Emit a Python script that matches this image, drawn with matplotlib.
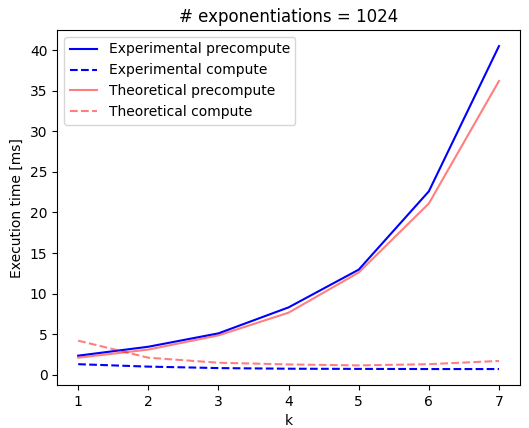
import numpy as np
import matplotlib.pyplot as plt

k = [1, 2, 3, 4, 5, 6, 7]
exp_precompute = [2.35, 3.45, 5.1, 8.3, 12.95, 22.6, 40.5]
exp_compute = [1.3, 1.0, 0.82, 0.74, 0.72, 0.7, 0.7]
theo_precompute = [2.1, 3.1, 4.85, 7.65, 12.6, 21.1, 36.2]
theo_compute = [4.2, 2.1, 1.48, 1.27, 1.15, 1.3, 1.7]

fig, ax = plt.subplots(figsize=(5.29, 4.28), dpi=100)

ax.plot(k, exp_precompute, 'b-', label='Experimental precompute')
ax.plot(k, exp_compute, 'b--', label='Experimental compute')
ax.plot(k, theo_precompute, '-', color='red', alpha=0.5, label='Theoretical precompute')
ax.plot(k, theo_compute, '--', color='red', alpha=0.5, label='Theoretical compute')

ax.set_xlabel('k')
ax.set_ylabel('Execution time [ms]')
ax.set_title('# exponentiations = 1024')
ax.legend(loc='upper left')

plt.subplots_adjust(left=0.108, right=0.983, top=0.93, bottom=0.1)
fig.savefig('out.png')
